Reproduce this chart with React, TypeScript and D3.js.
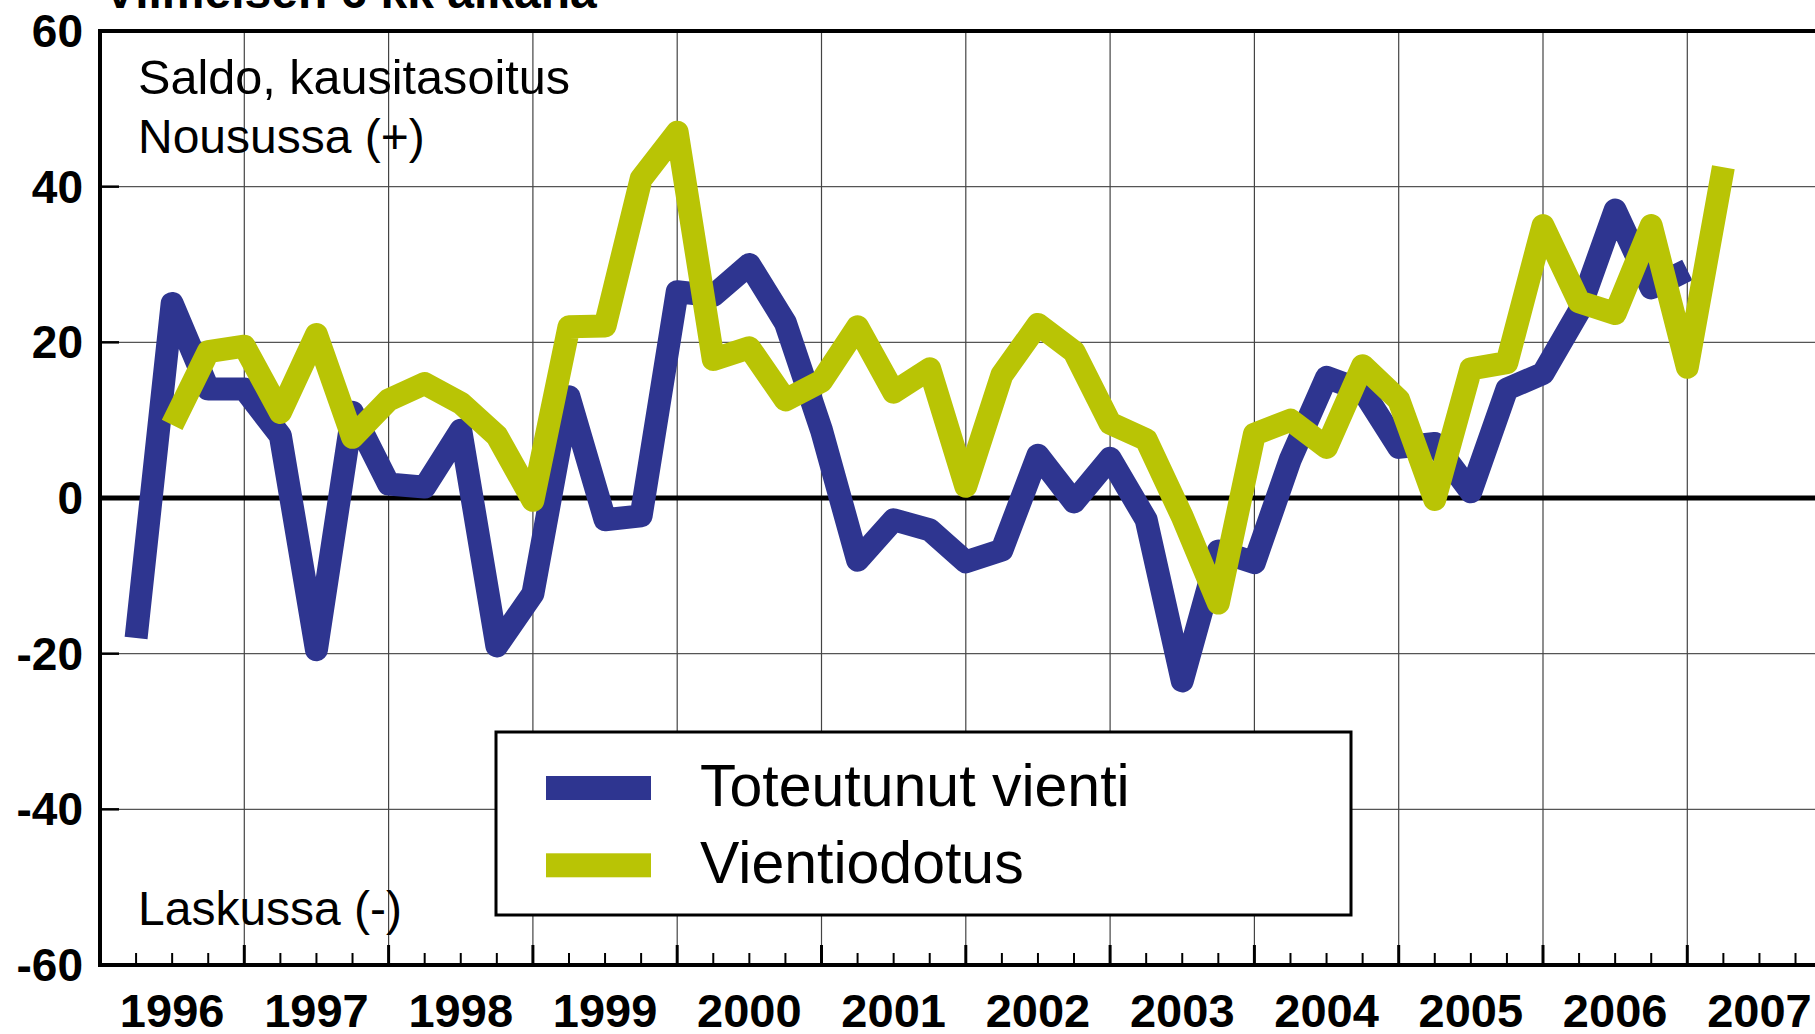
import React from "react";
import * as d3 from "d3";

// Quarterly balance figures (saldo, seasonally adjusted)
const blueStart = 1996.25; // Toteutunut vienti starts 1996 Q2 boundary
const toteutunutVienti = [
  -18, 25, 14, 14, 8, -19.5, 11, 1.8, 1.4, 8.7, -19, -12.3, 13, -2.8, -2.3, 26.5,
  26, 30, 22.5, 8.7, -8, -2.8, -4.1, -8.2, -6.7, 5.5, -0.5, 5.1, -2.8, -23.5, -6.8,
  -8.3, 5, 15.5, 13.8, 6.5, 7, 0.8, 14, 16, 24, 37, 27, 29.3,
];
const greenStart = 1996.5;
const vientiodotus = [
  9.4, 18.8, 19.5, 11, 21, 7.8, 12.6, 14.7, 12.2, 8, -0.3, 22, 22.1, 41, 47, 17.8,
  19.3, 12.6, 15, 22, 13.6, 16.6, 1.5, 15.8, 22.3, 18.8, 9.6, 7.5, -2.4, -13.5, 8.2,
  10, 6.5, 17, 12.6, -0.2, 16.6, 17.4, 35, 25.2, 23.7, 35, 16.8, 42.5,
];
const yearLabels = ["1996", "1997", "1998", "1999", "2000", "2001", "2002", "2003", "2004", "2005", "2006", "2007"];
const yTicks = [-60, -40, -20, 0, 20, 40, 60];
const seriesNames = ["Toteutunut vienti", "Vientiodotus"];
const seriesColors = ["#2E3590", "#B9C405"];

const W = 1815;
const H = 1034;
const FONT = "'Liberation Sans', Arial, Helvetica, sans-serif";

export default function App() {
  const x = d3.scaleLinear().domain([1996, 2008]).range([100, 1831.6]);
  const y = d3.scaleLinear().domain([-60, 60]).range([965, 31]);
  const line = d3
    .line<[number, number]>()
    .x((d) => x(d[0]))
    .y((d) => y(d[1]));
  const bluePts: [number, number][] = toteutunutVienti.map((v, i) => [blueStart + i * 0.25, v]);
  const greenPts: [number, number][] = vientiodotus.map((v, i) => [greenStart + i * 0.25, v]);

  const years = d3.range(1996, 2009);
  const quarters = d3.range(1996, 2008.01, 0.25).filter((q) => Math.abs(q - Math.round(q)) > 0.01);
  const right = W + 20;

  return (
    <svg
      width={W}
      height={H}
      style={{ position: "absolute", left: 0, top: 0, background: "#fff" }}
      fontFamily={FONT}
    >
      <rect x={0} y={0} width={W} height={H} fill="#fff" />
      {/* title (partly cut off) */}
      <text x={104} y={8} fontSize={48} fontWeight="bold" fill="#000">
        Viimeisen 6 kk aikana
      </text>

      {/* horizontal gridlines */}
      {yTicks
        .filter((t) => t !== 0 && Math.abs(t) !== 60)
        .map((t) => (
          <line key={"hg" + t} x1={x(1996)} x2={right} y1={y(t)} y2={y(t)} stroke="#555" strokeWidth={1.3} />
        ))}
      {/* vertical gridlines */}
      {years.slice(1).map((yr) => (
        <line key={"vg" + yr} x1={x(yr)} x2={x(yr)} y1={y(60)} y2={y(-60)} stroke="#444" strokeWidth={1.2} />
      ))}
      {/* zero line */}
      <line x1={x(1996)} x2={right} y1={y(0)} y2={y(0)} stroke="#000" strokeWidth={5} />

      {/* annotations */}
      <text x={138} y={94} fontSize={48} fill="#000" textLength={432} lengthAdjust="spacingAndGlyphs">Saldo, kausitasoitus</text>
      <text x={138} y={153} fontSize={48} fill="#000">Nousussa (+)</text>
      <text x={138} y={925} fontSize={48} fill="#000">Laskussa (-)</text>

      {/* series */}
      <path d={line(bluePts) || ""} fill="none" stroke={seriesColors[0]} strokeWidth={23} strokeLinejoin="round" strokeLinecap="butt" />
      <path d={line(greenPts) || ""} fill="none" stroke={seriesColors[1]} strokeWidth={23} strokeLinejoin="round" strokeLinecap="butt" />

      {/* legend */}
      <rect x={496} y={732} width={855} height={183} fill="#fff" stroke="#000" strokeWidth={3} />
      {seriesNames.map((n, i) => (
        <g key={n}>
          <rect x={546} y={776 + i * 77.3} width={105} height={24} fill={seriesColors[i]} />
          <text x={700} y={806 + i * 77.3} fontSize={59} fill="#000">{n}</text>
        </g>
      ))}

      {/* frame / axes */}
      <line x1={x(1996) - 2} x2={right} y1={y(60)} y2={y(60)} stroke="#000" strokeWidth={4} />
      <line x1={x(1996) - 2} x2={right} y1={y(-60)} y2={y(-60)} stroke="#000" strokeWidth={4} />
      <line x1={x(1996)} x2={x(1996)} y1={y(60) - 2} y2={y(-60) + 2} stroke="#000" strokeWidth={4} />

      {/* y ticks */}
      {yTicks
        .filter((t) => Math.abs(t) !== 60 && t !== 0)
        .map((t) => (
          <line key={"yt" + t} x1={x(1996)} x2={x(1996) + 19} y1={y(t)} y2={y(t)} stroke="#000" strokeWidth={2.5} />
        ))}
      {yTicks.map((t) => (
        <text key={"yl" + t} x={83} y={y(t) + 16} fontSize={46} fontWeight="bold" textAnchor="end" fill="#000">
          {t}
        </text>
      ))}

      {/* x ticks */}
      {quarters.map((q) => (
        <line key={"mq" + q} x1={x(q)} x2={x(q)} y1={y(-60)} y2={y(-60) - 12} stroke="#000" strokeWidth={2} />
      ))}
      {years.slice(1).map((yr) => (
        <line key={"my" + yr} x1={x(yr)} x2={x(yr)} y1={y(-60)} y2={y(-60) - 20} stroke="#000" strokeWidth={3} />
      ))}
      {yearLabels.map((l, i) => (
        <text key={"xl" + l} x={x(1996 + i + 0.5)} y={1027} fontSize={47} fontWeight="bold" textAnchor="middle" fill="#000">
          {l}
        </text>
      ))}
    </svg>
  );
}
